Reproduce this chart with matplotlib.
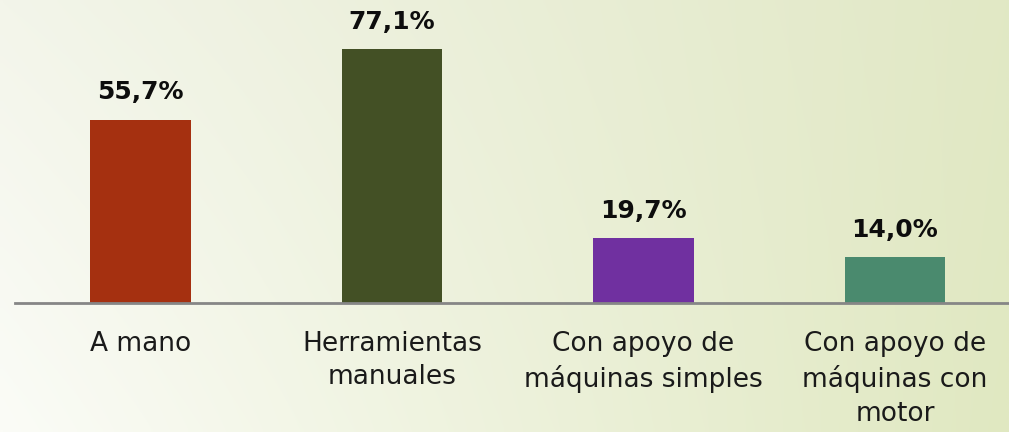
import numpy as np
import matplotlib
matplotlib.use("Agg")
import matplotlib.pyplot as plt

categories = ["A mano", "Herramientas\nmanuales", "Con apoyo de\nmáquinas simples",
              "Con apoyo de\nmáquinas con\nmotor"]
values = [55.7, 77.1, 19.7, 14.0]
value_labels = ["55,7%", "77,1%", "19,7%", "14,0%"]
colors = ["#A53010", "#435025", "#7030A0", "#4A8A6E"]

W, H = 1009, 432
fig = plt.figure(figsize=(W / 100, H / 100), dpi=100)

# background gradient
bg = fig.add_axes([0, 0, 1, 1])
bg.set_axis_off()
xs = np.linspace(0, 1, 200)
ys = np.linspace(0, 1, 100)
X, Y = np.meshgrid(xs, ys)
tl = np.array([243, 245, 234]) / 255
bl = np.array([251, 252, 247]) / 255
tr = np.array([225, 232, 197]) / 255
br = np.array([224, 232, 193]) / 255
img = ((1 - X)[..., None] * ((1 - Y)[..., None] * tl + Y[..., None] * bl)
       + X[..., None] * ((1 - Y)[..., None] * tr + Y[..., None] * br))
bg.imshow(img, aspect="auto", extent=[0, 1, 1, 0], interpolation="bilinear")
bg.set_xlim(0, 1)
bg.set_ylim(1, 0)

left = 14.75 / W
bottom = 129 / H
ax = fig.add_axes([left, bottom, 1 - left, 1 - bottom])
ax.patch.set_alpha(0)
x = np.arange(len(categories))
bars = ax.bar(x, values, width=0.4, color=colors, zorder=2)
ax.set_xlim(-0.5, 3.5 - 11.75 / 251.5)
ax.set_ylim(0, 92)
for s in ["top", "right", "left"]:
    ax.spines[s].set_visible(False)
ax.spines["bottom"].set_color("#868686")
ax.spines["bottom"].set_linewidth(2)
ax.set_yticks([])
ax.set_xticks(x)
ax.set_xticklabels(categories, fontsize=19, color="#1a1a1a", linespacing=1.38,
                   family="DejaVu Sans")
ax.tick_params(axis="x", length=0, pad=20)
for xi, v, lab in zip(x, values, value_labels):
    ax.annotate(lab, (xi, v), xytext=(0, 11), textcoords="offset points",
                ha="center", va="bottom", fontsize=18, fontweight="bold",
                color="#0d0d0d")

fig.savefig("out.png", dpi=100)
